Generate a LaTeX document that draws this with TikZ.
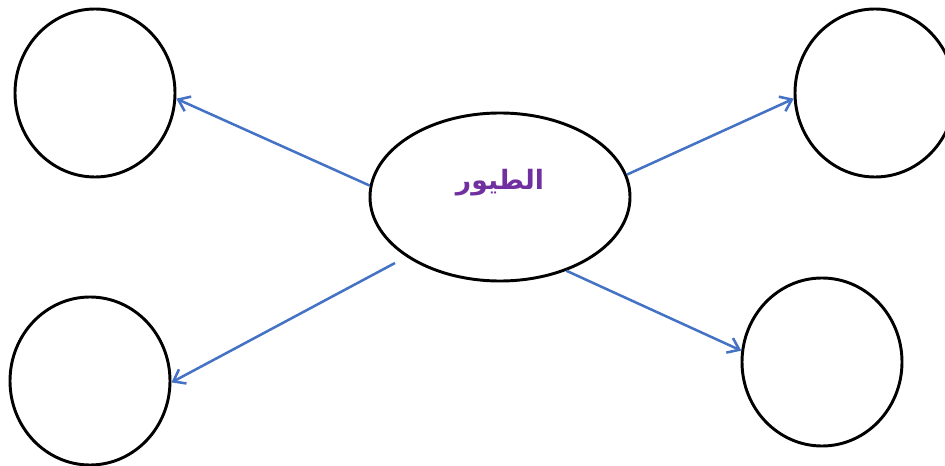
\documentclass[tikz,border=0pt]{standalone}
\usepackage{fontspec}
\newfontfamily\arabicfont[Script=Arabic]{DejaVu Sans}
\TeXXeTstate=1
\usetikzlibrary{arrows.meta,shapes.geometric}

\definecolor{arblue}{RGB}{68,114,196}
\definecolor{txtpurple}{RGB}{112,48,160}

\begin{document}
\begin{tikzpicture}[
  x=0.75pt,y=-0.75pt,
  nd/.style ={ellipse,draw,line width=2.2pt,minimum width=120pt,
              minimum height=126pt,inner sep=0pt},
  ctr/.style={ellipse,draw,line width=2.2pt,minimum width=195pt,
              minimum height=126pt,inner sep=0pt},
  arr/.style={arblue,line width=1.9pt,
              -{Straight Barb[length=8pt,width=12pt,line width=1.9pt]}}]

  \useasboundingbox (0,0) rectangle (945,466);

  % --- centre ellipse with the topic
  \node[ctr] (birds) at (500,197) {};
  \node[font=\arabicfont\bfseries\fontsize{20}{24}\selectfont,text=txtpurple]
       (lbl) at (500,183) {\beginR الطيور\endR};

  % --- the four empty circles
  \node[nd] (tl) at (95,93)  {};
  \node[nd] (tr) at (875,93) {};
  \node[nd] (bl) at (90,381) {};
  \node[nd] (br) at (822,362) {};

  % lower-left arrow starts a little off the ellipse
  \coordinate (blstart) at (395,263);

  % --- arrows out of the centre
  \draw[arr] (birds.175) -- (tl.-4);
  \draw[arr] (birds.10)  -- (tr.184);
  \draw[arr] (blstart)   -- (bl.-1);
  \draw[arr] (birds.-48) -- (br.172);
\end{tikzpicture}
\end{document}
